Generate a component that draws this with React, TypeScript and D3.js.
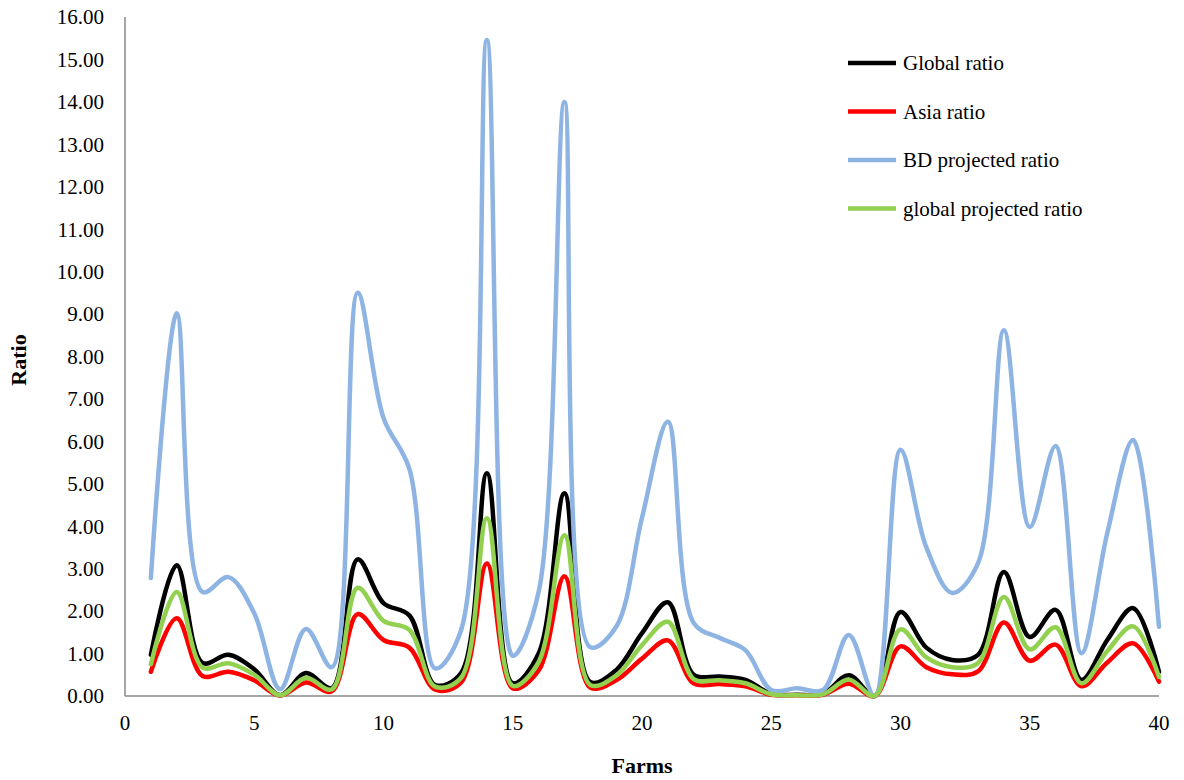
import React from "react";
import * as d3 from "d3";

const farms = d3.range(1, 41);
const globalRatio = [0.97, 3.08, 0.78, 0.97, 0.63, 0.02, 0.54, 0.19, 3.22, 2.19, 1.9, 0.26, 0.54, 5.25, 0.3, 1.0, 4.78, 0.33, 0.61, 1.48, 2.21, 0.5, 0.46, 0.38, 0.05, 0.03, 0.05, 0.49, 0.0, 1.98, 1.14, 0.85, 0.97, 2.92, 1.39, 2.03, 0.38, 1.32, 2.07, 0.57];
const asiaRatio = [0.57, 1.83, 0.47, 0.57, 0.37, 0.01, 0.32, 0.11, 1.93, 1.32, 1.14, 0.15, 0.32, 3.12, 0.18, 0.6, 2.82, 0.2, 0.37, 0.88, 1.31, 0.3, 0.28, 0.23, 0.03, 0.02, 0.03, 0.29, 0.0, 1.17, 0.68, 0.51, 0.58, 1.73, 0.83, 1.21, 0.23, 0.79, 1.24, 0.34];
const bdProjected = [2.78, 9.02, 2.45, 2.8, 1.95, 0.16, 1.58, 0.68, 9.5, 6.55, 5.35, 0.65, 1.55, 15.46, 0.95, 2.45, 14.0, 1.15, 1.63, 4.2, 6.46, 1.72, 1.37, 1.08, 0.14, 0.18, 0.14, 1.44, 0.0, 5.8, 3.5, 2.43, 3.13, 8.62, 3.98, 5.89, 1.01, 3.84, 6.03, 1.63];
const globalProjected = [0.75, 2.45, 0.67, 0.77, 0.5, 0.02, 0.43, 0.16, 2.55, 1.77, 1.56, 0.22, 0.43, 4.19, 0.24, 0.8, 3.79, 0.26, 0.48, 1.2, 1.75, 0.4, 0.37, 0.3, 0.04, 0.02, 0.04, 0.39, 0.0, 1.57, 0.91, 0.68, 0.78, 2.33, 1.1, 1.62, 0.3, 1.06, 1.64, 0.45];

const seriesNames = ["Global ratio", "Asia ratio", "BD projected ratio", "global projected ratio"];
const seriesColors = ["#000000", "#FF0000", "#8EB4E3", "#92D050"];
const seriesData = [globalRatio, asiaRatio, bdProjected, globalProjected];
const yTicks = d3.range(0, 17);
const xTicks = [0, 5, 10, 15, 20, 25, 30, 35, 40];

export default function App() {
  const W = 1184, H = 780;
  const x = d3.scaleLinear().domain([0, 40]).range([125, 1159]);
  const y = d3.scaleLinear().domain([0, 16]).range([696, 17]);
  const line = d3
    .line<number>()
    .x((_, i) => x(farms[i]))
    .y((d) => y(d))
    .curve(d3.curveCatmullRom.alpha(0.5));
  const font = "'Liberation Serif', 'Times New Roman', serif";
  const drawOrder = [0, 1, 2, 3];
  return (
    <svg width={W} height={H} style={{ position: "absolute", left: 0, top: 0, background: "#fff" }} fontFamily={font}>
      <line x1={x(0)} x2={x(0)} y1={y(16)} y2={y(0)} stroke="#888" strokeWidth={1.5} />
      <line x1={x(0)} x2={x(40)} y1={y(0)} y2={y(0)} stroke="#888" strokeWidth={1.5} />
      {yTicks.map((t) => (
        <text key={"y" + t} x={104} y={y(t)} dy="0.35em" textAnchor="end" fontSize={21} fill="#000">
          {t.toFixed(2)}
        </text>
      ))}
      {xTicks.map((t) => (
        <text key={"x" + t} x={x(t)} y={y(0) + 34} textAnchor="middle" fontSize={21} fill="#000">
          {t}
        </text>
      ))}
      {drawOrder.map((i) => (
        <path key={seriesNames[i]} d={line(seriesData[i]) || ""} fill="none" stroke={seriesColors[i]} strokeWidth={4.5} strokeLinejoin="round" strokeLinecap="round" />
      ))}
      {seriesNames.map((n, i) => {
        const ly = 63 + i * 48.5;
        return (
          <g key={"lg" + n}>
            <line x1={848} x2={896} y1={ly} y2={ly} stroke={seriesColors[i]} strokeWidth={4.5} />
            <text x={903} y={ly} dy="0.35em" fontSize={21} fill="#000">{n}</text>
          </g>
        );
      })}
      <text x={642} y={773} textAnchor="middle" fontSize={22} fontWeight="bold">Farms</text>
      <text transform={`translate(26,360) rotate(-90)`} textAnchor="middle" fontSize={22} fontWeight="bold">Ratio</text>
    </svg>
  );
}
